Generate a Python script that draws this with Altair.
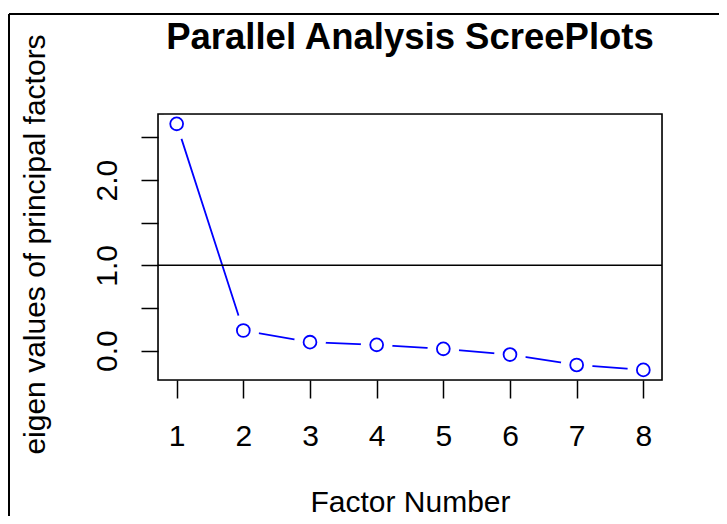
import altair as alt
import pandas as pd

# ---- data ----
factor_number = [1, 2, 3, 4, 5, 6, 7, 8]
eigen_values = [2.66, 0.235, 0.098, 0.067, 0.020, -0.047, -0.169, -0.227]
x_ticks = [1, 2, 3, 4, 5, 6, 7, 8]
y_ticks = [0.0, 0.5, 1.0, 1.5, 2.0, 2.5]
reference_line = [1.0]
title_text = "Parallel Analysis ScreePlots"
x_title = "Factor Number"
y_title = "eigen values of principal factors"

df = pd.DataFrame({"factor": factor_number, "eigen": eigen_values})
ref_df = pd.DataFrame({"eigen": reference_line})
one = pd.DataFrame({"label": [title_text]})

W, H = 504, 266
PAD = {"left": 150, "top": 106, "right": 57, "bottom": 136}
FONT = "Liberation Sans"
FS = 30

x_scale = alt.Scale(domain=[0.72, 8.28], nice=False, zero=False)
y_scale = alt.Scale(domain=[-0.3456, 2.7756], nice=False, zero=False)

x_axis = alt.Axis(
    values=x_ticks, format="d", title=x_title, grid=False, domain=False,
    tickSize=18, tickWidth=1.5, tickColor="black",
    labelPadding=47, labelBaseline="alphabetic", labelAlign="center",
    labelFont=FONT, labelFontSize=FS, labelColor="black",
    labelFlush=False, labelOverlap=False,
    titleFont=FONT, titleFontSize=FS, titleFontWeight="normal", titleColor="black",
    titleX=W / 2, titleY=131, titleBaseline="alphabetic", titleAlign="center",
)
y_axis = alt.Axis(
    values=y_ticks, title=y_title, grid=False, domain=False,
    labelExpr="datum.value % 1 == 0 ? format(datum.value, '.1f') : ''",
    tickSize=17, tickWidth=1.5, tickColor="black",
    labelAngle=270, labelPadding=25, labelBaseline="alphabetic", labelAlign="center",
    labelFont=FONT, labelFontSize=FS, labelColor="black",
    labelFlush=False, labelOverlap=False,
    titleFont=FONT, titleFontSize=FS, titleFontWeight="normal", titleColor="black",
    titleAngle=270, titleX=-114, titleY=130, titleBaseline="alphabetic", titleAlign="center",
)

x_enc = alt.X("factor:Q", scale=x_scale, axis=x_axis)
y_enc = alt.Y("eigen:Q", scale=y_scale, axis=y_axis)

line = alt.Chart(df).mark_line(color="#0000FF", strokeWidth=1.8).encode(x=x_enc, y=y_enc)
halo = alt.Chart(df).mark_circle(color="white", opacity=1, size=1000, clip=True).encode(x=x_enc, y=y_enc)
rule = alt.Chart(ref_df).mark_rule(color="black", strokeWidth=1.6).encode(y=y_enc)
pts = alt.Chart(df).mark_point(shape="circle", filled=False, color="#0000FF", size=165,
                                strokeWidth=1.8, opacity=1).encode(x=x_enc, y=y_enc)
box = alt.Chart(one).mark_rect(fillOpacity=0, stroke="black", strokeWidth=1.6).encode(
    x=alt.value(0), x2=alt.value(W), y=alt.value(0), y2=alt.value(H))
frame_left = alt.Chart(one).mark_rule(color="black", strokeWidth=2).encode(
    x=alt.value(-149), y=alt.value(-100), y2=alt.value(H + PAD["bottom"]))
frame_top = alt.Chart(one).mark_rule(color="black", strokeWidth=2).encode(
    x=alt.value(-149), x2=alt.value(W + PAD["right"]), y=alt.value(-100))
title = alt.Chart(one).mark_text(font=FONT, fontSize=36.5, fontWeight="bold", color="black",
                                 align="center", baseline="alphabetic").encode(
    text="label:N", x=alt.value(W / 2), y=alt.value(-65))

chart = alt.layer(line, halo, rule, pts, box, frame_left, frame_top, title).properties(
    width=W, height=H,
    padding=PAD,
    autosize=alt.AutoSizeParams(type="none"),
).configure_view(stroke=None).configure(background="white")

chart.save("out.html", embed_options={"renderer": "svg", "actions": False})
